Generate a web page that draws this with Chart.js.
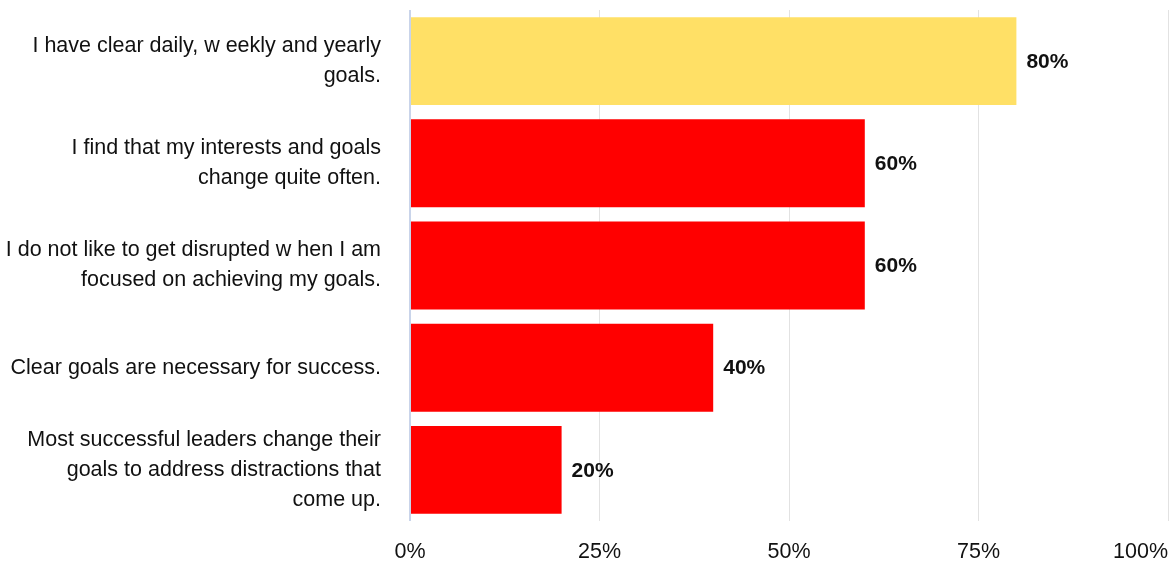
<!DOCTYPE html>
<html>
<head>
<meta charset="utf-8">
<script src="https://cdn.jsdelivr.net/npm/chart.js@4/dist/chart.umd.min.js"></script>
<style>
  body { margin: 0; background: #fff; }
  #wrap { width: 1172px; height: 563px; position: relative; }
</style>
</head>
<body>
<div id="wrap"><canvas id="myChart"></canvas></div>
<script>
// statements, one entry per bar (wrapped lines)
var statements = [
    ["I have clear daily, w eekly and yearly", "goals."],
    ["I find that my interests and goals", "change quite often."],
    ["I do not like to get disrupted w hen I am", "focused on achieving my goals."],
    ["Clear goals are necessary for success."],
    ["Most successful leaders change their", "goals to address distractions that", "come up."]
]
var percentAgree = [80, 60, 60, 40, 20]
var barColors = ["#FFE066", "#FF0000", "#FF0000", "#FF0000", "#FF0000"]
var axisTicks = [0, 25, 50, 75, 100]

const FONT = "'Liberation Sans', Arial, sans-serif"

// writes the percentage just right of each bar
const valueLabels = {
    id: 'valueLabels',
    afterDatasetsDraw(chart) {
        const ctx = chart.ctx
        const meta = chart.getDatasetMeta(0)
        ctx.save()
        ctx.font = "bold 21px " + FONT
        ctx.fillStyle = "#111"
        ctx.textAlign = "left"
        ctx.textBaseline = "middle"
        meta.data.forEach((bar, i) => {
            ctx.fillText(percentAgree[i] + "%", bar.x + 10, bar.y + 1)
        })
        ctx.restore()
    }
}

// keep "0%" centred under the axis while "100%" stays inside the canvas
const firstTickCentre = {
    id: 'firstTickCentre',
    beforeDraw(chart) {
        const items = chart.scales.x.getLabelItems(chart.chartArea)
        if (items.length) {
            items[0].options.textAlign = "center"
        }
    }
}

// no extra room for overhanging tick labels, the plot fills the canvas
function noLabelPadding(scale) {
    scale.paddingTop = 0
    scale.paddingBottom = 0
    scale.paddingLeft = 0
    scale.paddingRight = 0
}

const config = {
    type: 'bar',
    data: {
        labels: statements,
        datasets: [{
            data: percentAgree,
            backgroundColor: barColors,
            borderWidth: 0,
            barPercentage: 0.86,
            categoryPercentage: 1
        }]
    },
    options: {
        indexAxis: 'y',
        responsive: true,
        maintainAspectRatio: false,
        animation: false,
        layout: { padding: { top: 10, right: 4, left: 0, bottom: 0 } },
        plugins: {
            legend: { display: false },
            tooltip: { enabled: false }
        },
        scales: {
            x: {
                min: 0,
                max: 100,
                afterBuildTicks: (scale) => {
                    scale.ticks = axisTicks.map(v => ({ value: v }))
                },
                afterFit: (scale) => {
                    noLabelPadding(scale)
                    scale.height = 42
                },
                border: { display: false },
                grid: {
                    drawTicks: false,
                    color: (c) => c.tick && c.tick.value === 0 ? "#c9d4ea" : "#e2e2e2",
                    lineWidth: (c) => c.tick && c.tick.value === 0 ? 2 : 1
                },
                ticks: {
                    align: 'inner',
                    padding: 18,
                    color: "#111",
                    font: { family: FONT, size: 21.5 },
                    callback: (v) => v + "%"
                }
            },
            y: {
                afterFit: (scale) => {
                    noLabelPadding(scale)
                    scale.width = 410
                },
                border: { display: false },
                grid: { display: false, drawTicks: false },
                ticks: {
                    padding: 29,
                    color: "#111",
                    font: { family: FONT, size: 21.5, lineHeight: 1.4 }
                }
            }
        }
    },
    plugins: [valueLabels, firstTickCentre]
}

const myChart = new Chart(document.getElementById('myChart'), config)
</script>
</body>
</html>
